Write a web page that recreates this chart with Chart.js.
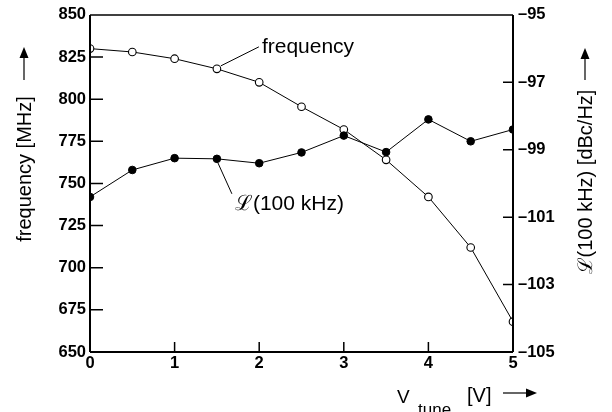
<!DOCTYPE html>
<html>
<head>
<meta charset="utf-8">
<script src="https://cdn.jsdelivr.net/npm/chart.js@4.4.0/dist/chart.umd.min.js"></script>
<style>
html,body{margin:0;padding:0;background:#fff;}
#wrap{width:612px;height:412px;}
</style>
</head>
<body>
<div id="wrap"><canvas id="c" width="612" height="412"></canvas></div>
<script>
// ---- data ----
const vtune = [0, 0.5, 1, 1.5, 2, 2.5, 3, 3.5, 4, 4.5, 5];
const frequencyMHz = [830, 828, 824, 818, 810, 795.5, 782, 764, 742, 712, 668];
const phaseNoise100k = [-100.4, -99.6, -99.25, -99.27, -99.4, -99.08, -98.58, -99.07, -98.1, -98.75, -98.4];
const xTicks = [0, 1, 2, 3, 4, 5];
const yLeftTicks = [650, 675, 700, 725, 750, 775, 800, 825, 850];
const yRightTicks = [-105, -103, -101, -99, -97, -95];

const FONT = "'Liberation Sans', Arial, Helvetica, sans-serif";
const TICKFONT = { family: FONT, size: 16.5, weight: 'bold' };

function pts(xs, ys){ return xs.map((x,i)=>({x:x, y:ys[i]})); }

function arrowUp(ctx, x, yBottom, yTip){
  ctx.beginPath();
  ctx.moveTo(x, yBottom); ctx.lineTo(x, yTip + 8);
  ctx.stroke();
  ctx.beginPath();
  ctx.moveTo(x, yTip); ctx.lineTo(x - 4.5, yTip + 11); ctx.lineTo(x + 4.5, yTip + 11);
  ctx.closePath(); ctx.fill();
}
function arrowRight(ctx, xStart, xTip, y){
  ctx.beginPath();
  ctx.moveTo(xStart, y); ctx.lineTo(xTip - 8, y);
  ctx.stroke();
  ctx.beginPath();
  ctx.moveTo(xTip, y); ctx.lineTo(xTip - 11, y - 4.5); ctx.lineTo(xTip - 11, y + 4.5);
  ctx.closePath(); ctx.fill();
}

const decor = {
  id: 'decor',
  afterDatasetsDraw(chart){
    const ctx = chart.ctx;
    const a = chart.chartArea;
    const sx = chart.scales.x, sy = chart.scales.y, sy2 = chart.scales.y2;
    ctx.save();
    ctx.strokeStyle = '#000'; ctx.fillStyle = '#000';
    // frame
    ctx.lineWidth = 2;
    ctx.beginPath();
    ctx.moveTo(a.left, a.bottom); ctx.lineTo(a.left, a.top);
    ctx.moveTo(a.left, a.bottom); ctx.lineTo(a.right, a.bottom);
    ctx.moveTo(a.right, a.bottom); ctx.lineTo(a.right, a.top);
    ctx.stroke();
    ctx.lineWidth = 1.5;
    ctx.beginPath();
    ctx.moveTo(a.left, a.top); ctx.lineTo(a.right, a.top);
    ctx.stroke();
    // inward tick marks
    ctx.lineWidth = 1.5;
    ctx.beginPath();
    yLeftTicks.forEach(v => {
      if (v === 650 || v === 850) return;
      const p = sy.getPixelForValue(v);
      ctx.moveTo(a.left, p); ctx.lineTo(a.left + 13, p);
    });
    yRightTicks.forEach(v => {
      if (v === -95 || v === -105) return;
      const p = sy2.getPixelForValue(v);
      ctx.moveTo(a.right, p); ctx.lineTo(a.right - 10, p);
    });
    xTicks.forEach(v => {
      if (v === 0 || v === 5) return;
      const p = sx.getPixelForValue(v);
      ctx.moveTo(p, a.bottom); ctx.lineTo(p, a.bottom - 10);
    });
    ctx.stroke();

    // annotations
    ctx.lineWidth = 1;
    const fx = sx.getPixelForValue(vtune[3]), fy = sy.getPixelForValue(frequencyMHz[3]);
    ctx.beginPath();
    ctx.moveTo(fx + 4, fy - 3); ctx.lineTo(fx + 42, fy - 22);
    ctx.stroke();
    const px = sx.getPixelForValue(vtune[3]), py = sy2.getPixelForValue(phaseNoise100k[3]);
    ctx.beginPath();
    ctx.moveTo(px + 1, py + 4); ctx.lineTo(px + 15, py + 35);
    ctx.stroke();
    ctx.font = '21px ' + FONT;
    ctx.textBaseline = 'middle';
    ctx.textAlign = 'left';
    ctx.fillText('frequency', fx + 45, fy - 22);
    ctx.fillText('\u2112(100 kHz)', px + 18, py + 45);

    // left axis title
    ctx.font = '20px ' + FONT;
    ctx.save();
    ctx.translate(25, 169);
    ctx.rotate(-Math.PI / 2);
    ctx.textAlign = 'center';
    ctx.fillText('frequency [MHz]', 0, 0);
    ctx.restore();
    ctx.lineWidth = 1.2;
    arrowUp(ctx, 24, 80, 47);

    // right axis title
    ctx.save();
    ctx.translate(586, 182);
    ctx.rotate(-Math.PI / 2);
    ctx.textAlign = 'center';
    ctx.fillText('\u2112(100 kHz) [dBc/Hz]', 0, 0);
    ctx.restore();
    arrowUp(ctx, 585, 80, 48);

    // bottom axis title
    ctx.textBaseline = 'alphabetic';
    ctx.textAlign = 'left';
    ctx.font = '19px ' + FONT;
    ctx.fillText('V', 397, 403);
    ctx.font = '17px ' + FONT;
    ctx.fillText('tune', 418, 415);
    ctx.font = '20px ' + FONT;
    ctx.fillText('[V]', 467, 402);
    arrowRight(ctx, 503, 537, 393);
    ctx.restore();
  }
};

new Chart(document.getElementById('c'), {
  type: 'line',
  data: {
    datasets: [
      {
        label: 'L(100 kHz)',
        data: pts(vtune, phaseNoise100k),
        yAxisID: 'y2',
        order: 0,
        borderColor: '#000', borderWidth: 1,
        pointStyle: 'circle', pointRadius: 3.8,
        pointBackgroundColor: '#000', pointBorderColor: '#000', pointBorderWidth: 1,
        tension: 0, clip: 0
      },
      {
        label: 'frequency',
        data: pts(vtune, frequencyMHz),
        yAxisID: 'y',
        order: 1,
        borderColor: '#000', borderWidth: 1,
        pointStyle: 'circle', pointRadius: 3.8,
        pointBackgroundColor: '#fff', pointBorderColor: '#000', pointBorderWidth: 1.1,
        tension: 0, clip: 0
      }
    ]
  },
  options: {
    responsive: false,
    animation: false,
    devicePixelRatio: 1,
    layout: { padding: { top: 14, left: 0, right: 0, bottom: 0 } },
    plugins: { legend: { display: false }, tooltip: { enabled: false }, title: { display: false } },
    scales: {
      x: {
        type: 'linear', min: 0, max: 5,
        afterBuildTicks: s => { s.ticks = xTicks.map(v => ({ value: v })); },
        afterFit: s => { s.height = 60; },
        grid: { display: false, drawTicks: false },
        border: { display: false },
        ticks: { color: '#000', padding: 2, font: TICKFONT, maxRotation: 0 }
      },
      y: {
        type: 'linear', position: 'left', min: 650, max: 850,
        afterBuildTicks: s => { s.ticks = yLeftTicks.map(v => ({ value: v })); },
        afterFit: s => { s.width = 90; },
        grid: { display: false, drawTicks: false },
        border: { display: false },
        ticks: { color: '#000', padding: 4, font: TICKFONT }
      },
      y2: {
        type: 'linear', position: 'right', min: -105, max: -95,
        afterBuildTicks: s => { s.ticks = yRightTicks.map(v => ({ value: v })); },
        afterFit: s => { s.width = 99; },
        grid: { display: false, drawTicks: false },
        border: { display: false },
        ticks: {
          color: '#000', padding: 5, font: TICKFONT,
          callback: v => '\u2013' + Math.abs(v)
        }
      }
    }
  },
  plugins: [decor]
});
</script>
</body>
</html>
